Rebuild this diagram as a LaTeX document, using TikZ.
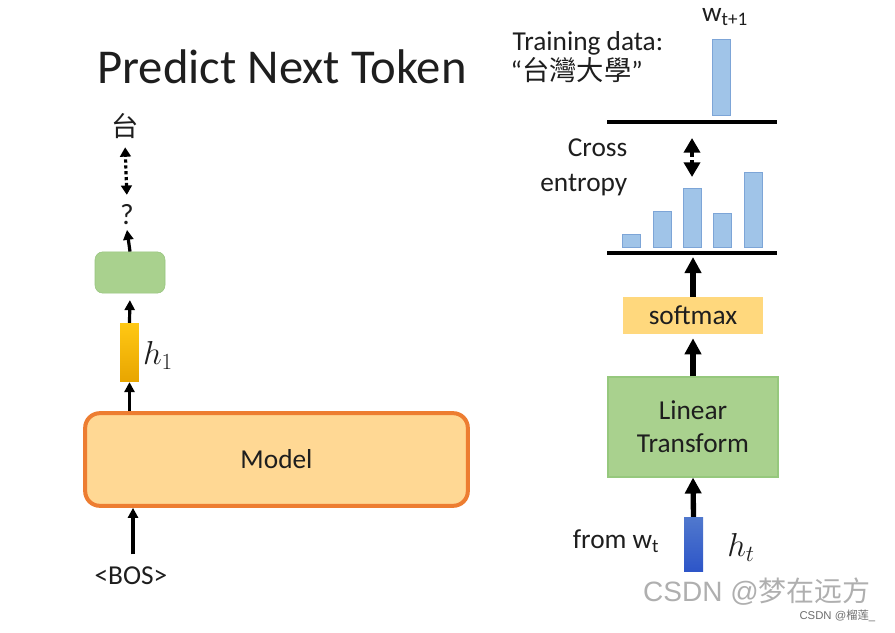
\documentclass[tikz,border=0pt]{standalone}
\usepackage{fontspec}
\setmainfont{Carlito}
\newfontfamily\cjk{Noto Sans CJK TC}
\newfontfamily\cjksc{Noto Sans CJK SC}
\newfontfamily\wmfont{Liberation Sans}
\usetikzlibrary{arrows.meta}

\begin{document}
\begin{tikzpicture}[x=0.75pt,y=0.75pt,yscale=-1,xscale=1,
  font=\fontsize{20.5}{24}\selectfont,
  text={rgb, 255:red, 30; green, 30; blue, 30 },
  arr/.style={line width=2.4pt,-{Triangle[length=7.5pt,width=7.5pt]}},
  bigarr/.style={line width=4pt,-{Triangle[length=12pt,width=12pt]}},
  distbar/.style={draw={rgb,255:red,125;green,165;blue,215},fill={rgb,255:red,160;green,196;blue,232},line width=0.6pt,minimum width=13.5pt,inner sep=0pt,anchor=south},
  ]
\useasboundingbox (0,0) rectangle (895,632);

%Title
\node (title) at (282,67) {\fontsize{36.5}{40}\selectfont Predict Next Token};

%Left column: outputs
\node (tai) at (125,126) {\cjk 台};
\node (qmark) at (127,215) {\fontsize{22}{24}\selectfont ?};

%Rounded Rect: output layer
\node [draw={rgb, 255:red, 150; green, 195; blue, 125 },fill={rgb, 255:red, 169; green, 209; blue, 142 },rounded corners=6pt,minimum width=52.5pt,minimum height=31pt,inner sep=0pt] (outbox) at (130,272.5) {};

%Shape: hidden vector h1
\node [top color={rgb, 255:red, 255; green, 200; blue, 20 },bottom color={rgb, 255:red, 232; green, 165; blue, 0 },minimum width=14pt,minimum height=44pt,inner sep=0pt] (hone) at (129.5,352.5) {};
\node (honelab) at (158,355) {\fontsize{24}{28}\selectfont $h_1$};

%Rounded Rect: Model
\node [draw={rgb, 255:red, 237; green, 125; blue, 49 },line width=3pt,fill={rgb, 255:red, 255; green, 216; blue, 148 },rounded corners=11pt,minimum width=287pt,minimum height=69.5pt] (model) at (276.5,459.5) {Model};

\node (bos) at (131,576) {<BOS>};

%Left arrows
\draw [arr] (model.north -| hone.south) -- (hone.south) ;
\draw [arr,shorten >=5pt] (hone.north) -- (outbox.south) ;
\draw [arr] (outbox.north) -- (qmark.south) ;
\draw [line width=2.4pt,dotted,{Triangle[length=7pt,width=8pt]}-{Triangle[length=7pt,width=8pt]},shorten <=4pt,shorten >=3pt] (qmark.north) -- (tai.south) ;
\draw [arr,shorten <=6pt] ([xshift=1.5pt]bos.north) -- ([xshift=1.5pt]bos.north |- model.south) ;

%Right column: training target
\node [anchor=west] (train) at (508,43) {Training data:};
\node [anchor=west] (tdata) at (506,70) {“{\cjk 台灣大學}”};
\node [distbar,minimum height=57pt] (wbar) at (721,116) {};
\node (wlab) at (725,17) {w\textsubscript{t+1}};
\coordinate (topl) at (607,122);
\coordinate (topr) at (777,122);
\draw [line width=2.4pt] (topl) -- (topr) ;

%Cross entropy
\coordinate (cea) at (692,138);
\coordinate (ceb) at (692,177);
\draw [line width=3.5pt,dash pattern=on 4pt off 2.5pt,{Triangle[length=11pt,width=12pt]}-{Triangle[length=11pt,width=12pt]}] (cea) -- (ceb) ;
\node [anchor=east,align=right,font=\fontsize{20.5}{26}\selectfont] (ce) at (632,167) {Cross\\entropy};

%Predicted distribution
\foreach \x/\h [count=\i] in {631.5/13,662/36,692.5/59,722.5/34,753/75}
  \node [distbar,minimum height={\h*0.75pt}] (p\i) at (\x,248) {};
\coordinate (botl) at (607,253);
\coordinate (botr) at (777,253);
\draw [line width=2.4pt] (botl) -- (botr) ;

%softmax and linear transform
\node [fill={rgb, 255:red, 255; green, 216; blue, 125 },minimum width=105pt,minimum height=27.75pt] (smax) at (693,315.5) {softmax};
\node [draw={rgb, 255:red, 150; green, 200; blue, 125 },fill={rgb, 255:red, 169; green, 209; blue, 142 },line width=0.8pt,minimum width=127.5pt,minimum height=75pt,align=center,font=\fontsize{20.5}{25}\selectfont] (lin) at (693,427) {Linear\\Transform};

%Shape: hidden vector ht
\node [top color={rgb, 255:red, 80; green, 120; blue, 205 },bottom color={rgb, 255:red, 45; green, 85; blue, 200 },minimum width=14.25pt,minimum height=41pt,inner sep=0pt] (htbar) at (693.5,544.5) {};
\node [anchor=east] (from) at (664,541) {from w\textsubscript{t}};
\node (htlab) at (741,547) {\fontsize{24}{28}\selectfont $h_t$};

%Right arrows
\draw [bigarr] (htbar.north) -- (lin.south) ;
\draw [bigarr,shorten >=3pt] (lin.north) -- (smax.south) ;
\draw [bigarr,shorten >=3pt] (smax.north) -- (smax.north |- botl) ;

%Watermarks
\node [text={rgb, 255:red, 175; green, 175; blue, 175 },font=\wmfont\fontsize{21}{24}\selectfont] (wm) at (757,592) {CSDN @{\cjksc 梦在远方}};
\node [text={rgb, 255:red, 110; green, 110; blue, 110 },font=\wmfont\fontsize{8.5}{10}\selectfont,anchor=east] (wmb) at (880,616) {CSDN @{\cjksc 榴莲}\_};

\end{tikzpicture}
\end{document}
